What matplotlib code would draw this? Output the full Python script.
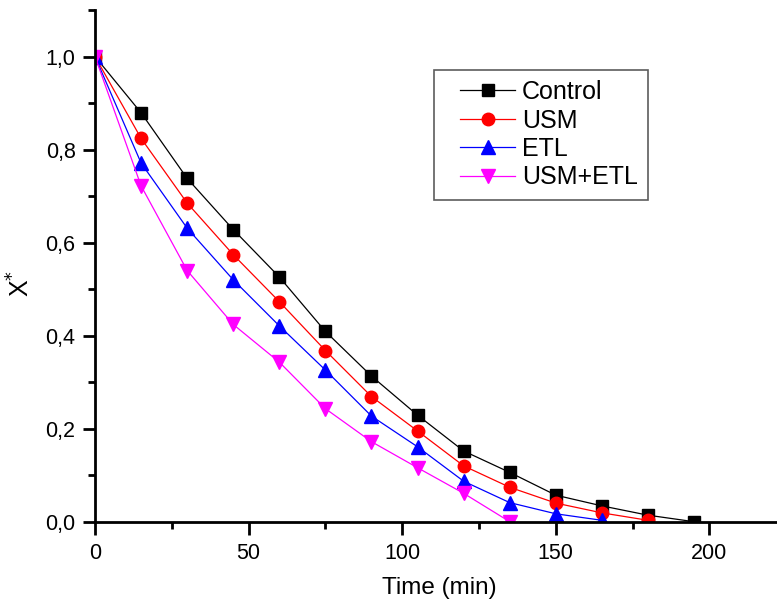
import matplotlib
matplotlib.use("Agg")
import matplotlib.pyplot as plt
from matplotlib.lines import Line2D
from matplotlib.legend_handler import HandlerLine2D
from matplotlib.ticker import MultipleLocator, FuncFormatter

time = [0, 15, 30, 45, 60, 75, 90, 105, 120, 135, 150, 165, 180, 195]
control = [1.0, 0.879, 0.738, 0.628, 0.526, 0.409, 0.313, 0.229, 0.152, 0.106, 0.057, 0.034, 0.014, 0.0]
usm = [1.0, 0.824, 0.685, 0.574, 0.473, 0.368, 0.269, 0.195, 0.120, 0.074, 0.040, 0.019, 0.003]
etl = [1.0, 0.771, 0.631, 0.520, 0.421, 0.326, 0.227, 0.161, 0.087, 0.041, 0.017, 0.003]
usm_etl = [1.0, 0.722, 0.540, 0.424, 0.343, 0.243, 0.172, 0.116, 0.061, 0.0]

plt.rcParams['font.family'] = ['Liberation Sans', 'DejaVu Sans']

fig = plt.figure(figsize=(7.77, 6.01), dpi=100)
ax = fig.add_axes([95/777, 1-521.7/601, 1-95/777, (521.7-10)/601])

ax.plot(time[:len(control)], control, color='black', marker='s', ms=9, lw=0.9, label='Control')
ax.plot(time[:len(usm)], usm, color='red', marker='o', ms=9, lw=0.9, label='USM')
ax.plot(time[:len(etl)], etl, color='blue', marker='^', ms=9.5, lw=0.9, label='ETL')
ax.plot(time[:len(usm_etl)], usm_etl, color='magenta', marker='v', ms=9.5, lw=0.9, label='USM+ETL')

ax.set_xlim(0, 222)
ax.set_ylim(0, 1.1)
ax.spines['top'].set_visible(False)
ax.spines['right'].set_visible(False)
ax.spines['left'].set_linewidth(2)
ax.spines['bottom'].set_linewidth(2)

ax.xaxis.set_major_locator(MultipleLocator(50))
ax.xaxis.set_minor_locator(MultipleLocator(25))
ax.yaxis.set_major_locator(MultipleLocator(0.2))
ax.yaxis.set_minor_locator(MultipleLocator(0.1))
ax.yaxis.set_major_formatter(FuncFormatter(lambda v, p: f"{v:.1f}".replace('.', ',')))
ax.tick_params(which='major', direction='out', length=9, width=2, labelsize=15.5)
ax.tick_params(axis='y', which='major', pad=5)
ax.tick_params(axis='x', which='major', pad=6)
ax.tick_params(which='minor', direction='out', length=5, width=2)

ax.set_xlabel('Time (min)', fontsize=17.5)
ax.xaxis.set_label_coords(0.505, -0.108)
ax.set_ylabel('X$^{*}$', fontsize=18)
ax.yaxis.set_label_coords(-0.088, 0.465)

leg = ax.legend(loc='upper left', bbox_to_anchor=((434-95)/682, 1-(70-10)/511.7),
                fontsize=18, frameon=True, fancybox=False, edgecolor='#333333',
                borderpad=0.4, labelspacing=0.18, handlelength=2.84, handletextpad=0.28,
                borderaxespad=0, handler_map={Line2D: HandlerLine2D(xpad=0.64)})
leg.get_frame().set_linewidth(1.2)

fig.savefig('out.png', dpi=100)
